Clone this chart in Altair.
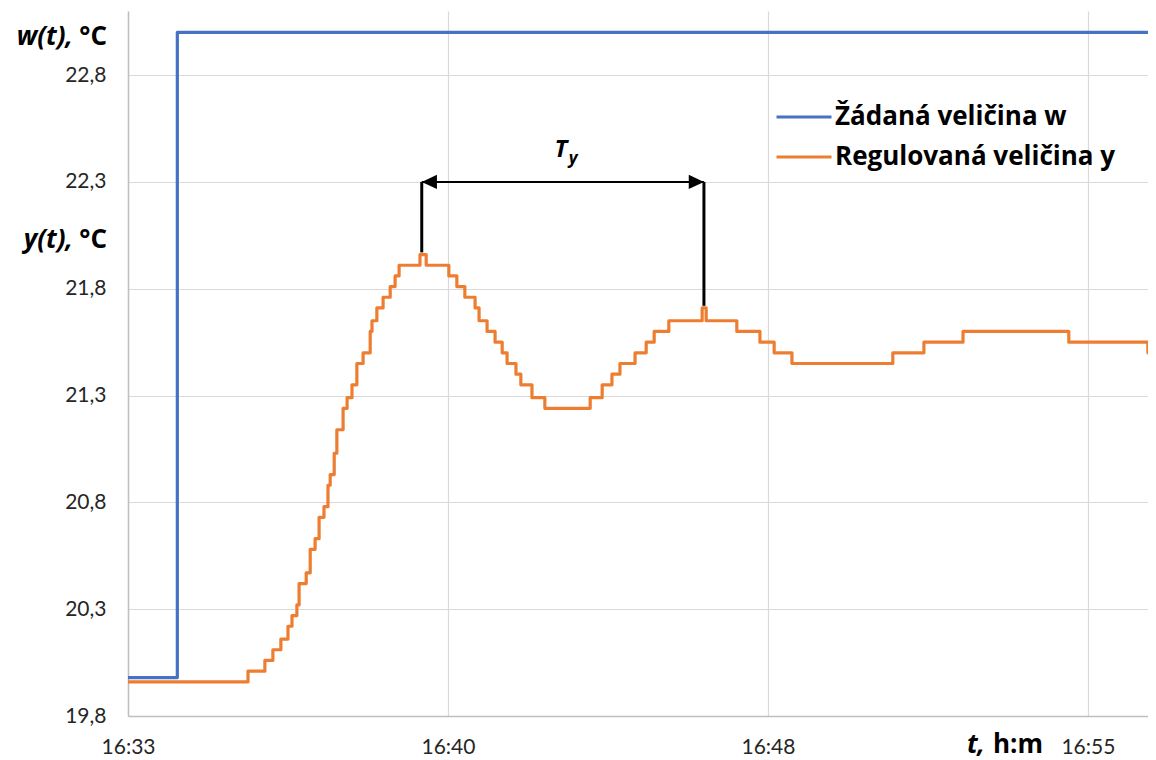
import altair as alt
import pandas as pd

# ---- data (time in minutes after the first sample, 16:33) ----
series_names = ["Žádaná veličina w", "Regulovaná veličina y"]
series_colors = ["#4472C4", "#ED7D31"]

w_time = [0.00, 1.11, 23.10]
w_value = [19.98, 23.00, 23.00]

y_time = [0.00, 2.70, 3.08, 3.26, 3.44, 3.60, 3.69, 3.80, 3.85, 4.01, 4.10, 4.21,
          4.30, 4.41, 4.50, 4.55, 4.64, 4.70, 4.84, 4.93, 5.04, 5.15, 5.29, 5.45,
          5.49, 5.60, 5.74, 5.90, 6.01, 6.10, 6.57, 6.71, 7.22, 7.40, 7.58, 7.81,
          7.90, 8.08, 8.26, 8.42, 8.53, 8.73, 8.84, 9.09, 9.38, 10.40, 10.67, 10.89,
          11.07, 11.41, 11.66, 11.84, 12.17, 12.92, 13.01, 13.70, 14.22, 14.54, 14.94,
          17.21, 17.91, 18.79, 21.17, 22.95, 23.10]
y_value = [19.96, 20.01, 20.06, 20.11, 20.16, 20.22, 20.27, 20.32, 20.42, 20.47, 20.58, 20.63,
           20.73, 20.78, 20.88, 20.93, 21.03, 21.14, 21.24, 21.29, 21.35, 21.45, 21.50, 21.60,
           21.65, 21.71, 21.76, 21.81, 21.86, 21.91, 21.96, 21.91, 21.86, 21.81, 21.76, 21.71,
           21.65, 21.60, 21.55, 21.50, 21.45, 21.40, 21.35, 21.29, 21.24, 21.29, 21.35, 21.40,
           21.45, 21.50, 21.55, 21.60, 21.65, 21.71, 21.65, 21.60, 21.55, 21.50, 21.45,
           21.50, 21.55, 21.60, 21.55, 21.50, 21.50]

x_tick_values = [0, 7.2, 14.4, 21.6]
x_tick_labels = ["16:33", "16:40", "16:48", "16:55"]
y_tick_values = [19.8, 20.3, 20.8, 21.3, 21.8, 22.3, 22.8]

ty_times = [6.61, 12.96]
ty_peaks = [21.97, 21.72]
ty_level = 22.3

# ---- tables ----
lines_df = pd.concat([
    pd.DataFrame({"t": w_time, "v": w_value, "series": series_names[0]}),
    pd.DataFrame({"t": y_time, "v": y_value, "series": series_names[1]}),
], ignore_index=True)
ty_df = pd.DataFrame({"t": ty_times, "v": ty_peaks, "level": [ty_level] * 2, "idx": [0, 1]})
ty_span = pd.DataFrame({"t": [ty_times[0]], "t2": [ty_times[1]], "level": [ty_level]})

FONT = "Lato"
BOLD_FONT = "Open Sans"
labels_js = "[" + ",".join(f"'{s}'" for s in x_tick_labels) + "]"

PLOT_W = 1020
x_scale = alt.Scale(domain=[0, PLOT_W / 44.44], nice=False, zero=False)
y_scale = alt.Scale(domain=[19.8, 23.1], nice=False, zero=False)
x_axis = alt.Axis(values=x_tick_values, labelExpr=f"{labels_js}[round(datum.value / 7.2)]",
                  title=None, ticks=False, grid=True, labelFlush=False,
                  labelBaseline="alphabetic", labelPadding=37)
y_axis = alt.Axis(values=y_tick_values, labelExpr="replace(format(datum.value, '.1f'), '.', ',')",
                  title=None, ticks=False, grid=True, labelPadding=22, labelFlush=False)

X = alt.X("t:Q", scale=x_scale, axis=x_axis)
Y = lambda f: alt.Y(f, scale=y_scale, axis=y_axis)

lines = alt.Chart(lines_df).mark_line(interpolate="step-after", strokeWidth=3.2,
                                      strokeJoin="round", clip=True).encode(
    x=X,
    y=Y("v:Q"),
    color=alt.Color("series:N", scale=alt.Scale(domain=series_names, range=series_colors),
                    legend=alt.Legend(title=None, orient="none", legendX=647, legendY=91,
                                      symbolType="stroke", symbolSize=3025, symbolStrokeWidth=3,
                                      clipHeight=30, rowPadding=10, labelOffset=2, padding=0,
                                      labelFont=BOLD_FONT, labelFontSize=26, labelFontWeight="bold",
                                      labelColor="black", labelLimit=400)),
    detail="series:N",
)

vrules = alt.Chart(ty_df).mark_rule(color="black", strokeWidth=3).encode(
    x=X, y=Y("v:Q"), y2="level:Q")

hrule = alt.Chart(ty_span).mark_rule(color="black", strokeWidth=2).encode(
    x=X, x2="t2:Q", y=Y("level:Q"))

head_left = alt.Chart(ty_df).transform_filter("datum.idx == 0").mark_point(
    shape="M0,0L1.9,-0.9L1.9,0.9Z", size=256, filled=True, color="black", opacity=1).encode(
    x=X, y=Y("level:Q"))
head_right = alt.Chart(ty_df).transform_filter("datum.idx == 1").mark_point(
    shape="M0,0L-1.9,-0.9L-1.9,0.9Z", size=256, filled=True, color="black", opacity=1).encode(
    x=X, y=Y("level:Q"))

ty_base = alt.Chart(ty_span).transform_calculate(mid="(datum.t + datum.t2) / 2")
MID = alt.X("mid:Q", scale=x_scale, axis=x_axis)
ty_T = ty_base.mark_text(text="T", font=BOLD_FONT, fontSize=24, fontWeight="bold", fontStyle="italic",
                         align="center", baseline="alphabetic", dx=-2, dy=-25).encode(
    x=MID, y=Y("level:Q"))
ty_sub = ty_base.mark_text(text="y", font=BOLD_FONT, fontSize=17, fontWeight="bold", fontStyle="italic",
                           align="left", baseline="alphabetic", dx=6, dy=-18).encode(
    x=MID, y=Y("level:Q"))

# axis captions
cap_df = pd.DataFrame({"k": [0]})
def caption(text, x, y, italic, align="right", size=26):
    kw = dict(text=text, font=BOLD_FONT, fontSize=size, fontWeight="bold", align=align,
              baseline="alphabetic", color="black")
    if italic:
        kw["fontStyle"] = "italic"
    return alt.Chart(cap_df).mark_text(**kw).encode(x=alt.value(x), y=alt.value(y))

captions = [
    caption("w(t),", -55, 34, True),
    caption("°C", -21, 34, False),
    caption("y(t),", -55, 237, True),
    caption("°C", -21, 237, False),
    caption("t,", 857, 742, True),
    caption("h:m", 915, 742, False),
]

chart = alt.layer(lines, vrules, hrule, head_left, head_right, ty_T, ty_sub, *captions).properties(
    width=PLOT_W, height=705,
    padding={"left": 120, "top": 3, "right": 0, "bottom": 44},
    autosize=alt.AutoSizeParams(type="none"),
).configure_view(stroke=None).configure_axis(
    labelFont=FONT, labelFontSize=21, labelColor="#262626",
    domainColor="#BFBFBF", domainWidth=1.5, gridColor="#D9D9D9", gridWidth=1.2,
)

chart.save("out.html", embed_options={"renderer": "svg", "actions": False})
